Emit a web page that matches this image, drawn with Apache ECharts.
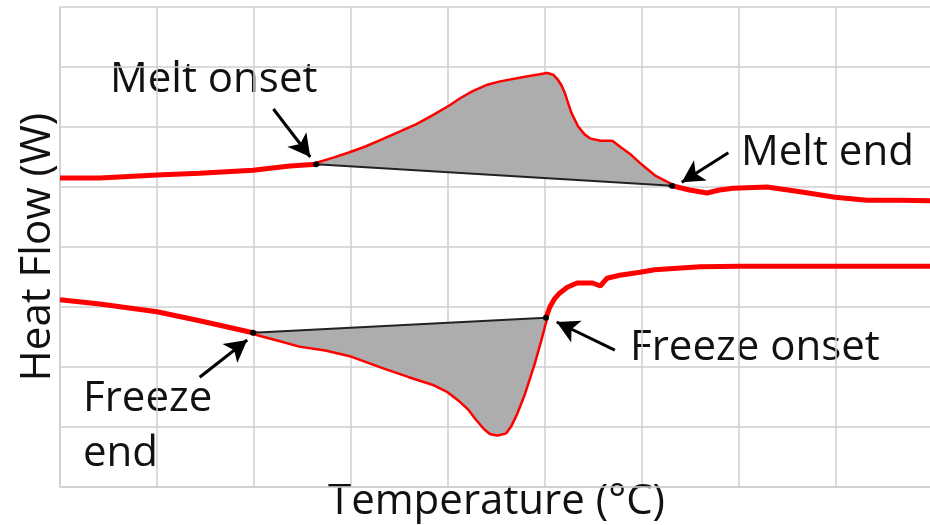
<!DOCTYPE html>
<html>
<head>
<meta charset="utf-8">
<title>Heat Flow vs Temperature</title>
<script src="https://cdn.jsdelivr.net/npm/echarts@6/dist/echarts.min.js"></script>
<style>
  html, body { margin: 0; padding: 0; background: #ffffff; }
  #chart { width: 930px; height: 525px; }
</style>
</head>
<body>
<div id="chart"></div>
<script>
// Heating (melt) trace
const meltTemp = [0, 0.41, 1.0, 1.44, 1.99, 2.37, 2.64, 2.82, 2.99, 3.16, 3.33, 3.5, 3.68, 3.85, 4.02, 4.14, 4.26, 4.4, 4.54, 4.81, 4.95, 5.02, 5.08, 5.12, 5.16, 5.19, 5.26, 5.33, 5.4, 5.46, 5.57, 5.69, 5.77, 5.88, 5.98, 6.13, 6.31, 6.49, 6.67, 6.8, 6.94, 7.29, 7.63, 7.99, 8.32, 8.66, 9.0];
const meltFlow = [5.15, 5.15, 5.2, 5.23, 5.28, 5.35, 5.38, 5.47, 5.56, 5.66, 5.78, 5.9, 6.03, 6.18, 6.34, 6.47, 6.58, 6.68, 6.74, 6.82, 6.86, 6.88, 6.85, 6.78, 6.68, 6.57, 6.23, 6.0, 5.86, 5.79, 5.75, 5.75, 5.65, 5.52, 5.37, 5.17, 5.02, 4.95, 4.9, 4.95, 4.98, 5.0, 4.92, 4.83, 4.78, 4.78, 4.77];
const meltOnsetIdx = 6;
const meltEndIdx = 36;

// Cooling (freeze) trace
const freezeTemp = [0, 0.41, 1.0, 1.44, 1.99, 2.27, 2.47, 2.75, 2.99, 3.33, 3.6, 3.85, 4.0, 4.12, 4.22, 4.3, 4.38, 4.44, 4.51, 4.59, 4.64, 4.7, 4.78, 4.88, 4.95, 5.01, 5.05, 5.1, 5.15, 5.23, 5.33, 5.49, 5.57, 5.64, 5.77, 5.98, 6.13, 6.6, 7.01, 9.0];
const freezeFlow = [3.12, 3.05, 2.92, 2.77, 2.57, 2.45, 2.36, 2.29, 2.2, 2.0, 1.85, 1.72, 1.6, 1.45, 1.3, 1.13, 0.98, 0.9, 0.88, 0.91, 1.02, 1.22, 1.55, 2.05, 2.45, 2.82, 3.0, 3.14, 3.23, 3.33, 3.4, 3.4, 3.35, 3.48, 3.53, 3.58, 3.62, 3.67, 3.68, 3.68];
const freezeEndIdx = 4;
const freezeOnsetIdx = 25;

// Annotation text and arrows (tail -> tip, in axis units)
const noteLabels = ['Melt onset', 'Melt end', 'Freeze onset', 'Freeze\nend'];
const arrowTails = [[2.2, 6.3], [6.89, 5.57], [1.44, 1.83], [5.72, 2.28]];
const arrowTips  = [[2.58, 5.5], [6.41, 5.08], [1.93, 2.45], [5.12, 2.75]];

const xTicks = { min: 0, max: 9, step: 1 };
const yTicks = { min: 0, max: 8, step: 1 };

const pairs = (xs, ys) => xs.map((x, i) => [x, ys[i]]);
const meltData = pairs(meltTemp, meltFlow);
const freezeData = pairs(freezeTemp, freezeFlow);

// peak regions: curve between the two transition points, closed by the straight baseline
const peaks = [
  meltData.slice(meltOnsetIdx, meltEndIdx + 1),
  freezeData.slice(freezeEndIdx, freezeOnsetIdx + 1)
];
const baselines = [
  [meltData[meltOnsetIdx], meltData[meltEndIdx]],
  [freezeData[freezeEndIdx], freezeData[freezeOnsetIdx]]
];

const FONT = 'Open Sans';
const FSIZE = 42;
const gridColor = '#cfcfcf';

const chart = echarts.init(document.getElementById('chart'), null, { renderer: 'canvas' });

const arrowLines = arrowTails.map((t, i) => [{ coord: t }, { coord: arrowTips[i] }]);

const textStyle = (text, extra) => Object.assign({ text: text, font: FSIZE + 'px "' + FONT + '"', fill: '#111' }, extra || {});

const option = {
  animation: false,
  backgroundColor: '#ffffff',
  grid: { left: 60, top: 7, width: 873, height: 480, containLabel: false, outerBoundsMode: 'none' },
  xAxis: {
    type: 'value', min: xTicks.min, max: xTicks.max, interval: xTicks.step,
    name: 'Temperature (°C)', nameLocation: 'middle', nameGap: -6,
    nameTextStyle: { fontFamily: FONT, fontSize: FSIZE, color: '#111' },
    axisLine: { show: true, lineStyle: { color: gridColor, width: 1.5 } },
    axisTick: { show: false }, axisLabel: { show: false },
    splitLine: { show: true, lineStyle: { color: gridColor, width: 1.5 } }
  },
  yAxis: {
    type: 'value', min: yTicks.min, max: yTicks.max, interval: yTicks.step,
    name: 'Heat Flow (W)', nameLocation: 'middle', nameGap: 1,
    nameTextStyle: { fontFamily: FONT, fontSize: FSIZE, color: '#111' },
    axisLine: { show: true, lineStyle: { color: gridColor, width: 1.5 } },
    axisTick: { show: false }, axisLabel: { show: false },
    splitLine: { show: true, lineStyle: { color: gridColor, width: 1.5 } }
  },
  series: [
    {
      name: 'Melt', type: 'line', data: meltData, showSymbol: false, z: 2,
      lineStyle: { color: '#ff0000', width: 5 },
      markLine: {
        silent: true, symbol: ['none', 'arrow'], symbolSize: [18, 22],
        label: { show: false },
        lineStyle: { color: '#000', width: 3, type: 'solid' },
        data: arrowLines
      }
    },
    {
      name: 'Freeze', type: 'line', data: freezeData, showSymbol: false, z: 2,
      lineStyle: { color: '#ff0000', width: 5 }
    },
    {
      name: 'Peak area', type: 'custom', z: 3,
      data: [0, 1],
      renderItem: function (params, api) {
        const pts = peaks[params.dataIndex].map(p => api.coord(p));
        return {
          type: 'polygon',
          shape: { points: pts },
          style: { fill: '#adadad' }
        };
      }
    },
    {
      name: 'Melt baseline', type: 'line', data: baselines[0], z: 4,
      symbol: 'circle', symbolSize: 6, showSymbol: true,
      itemStyle: { color: '#000' },
      lineStyle: { color: '#222', width: 2 }
    },
    {
      name: 'Freeze baseline', type: 'line', data: baselines[1], z: 4,
      symbol: 'circle', symbolSize: 6, showSymbol: true,
      itemStyle: { color: '#000' },
      lineStyle: { color: '#222', width: 2 }
    }
  ],
  graphic: [
    { type: 'text', left: 110, top: 59, style: textStyle(noteLabels[0]) },
    { type: 'text', left: 741, top: 132, style: textStyle(noteLabels[1]) },
    { type: 'text', left: 630, top: 327, style: textStyle(noteLabels[2]) },
    { type: 'text', left: 83, top: 372, style: textStyle(noteLabels[3], { lineHeight: 55 }) }
  ]
};

chart.setOption(option);
</script>
</body>
</html>
